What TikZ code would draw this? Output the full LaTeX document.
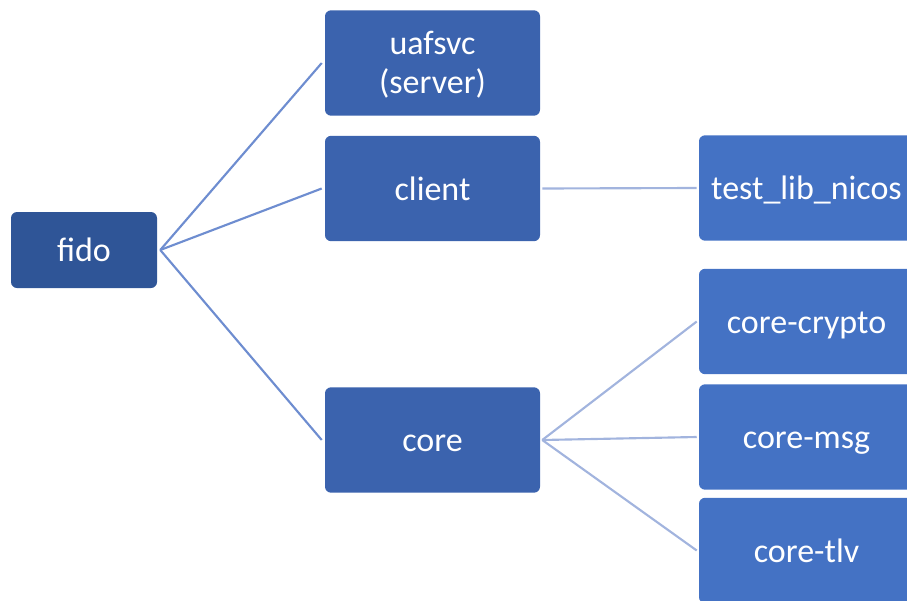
\documentclass[tikz,border=0pt]{standalone}
\usepackage{fontspec}
\setmainfont{Carlito}
\definecolor{rootblue}{HTML}{2F5597}
\definecolor{midblue}{HTML}{3B63AE}
\definecolor{leafblue}{HTML}{4472C4}
\definecolor{linkone}{HTML}{6E8DD0}
\definecolor{linktwo}{HTML}{A2B4DE}
\tikzset{
  box/.style={rounded corners=4.5pt, inner sep=0pt, text=white, align=center,
    font=\fontsize{25.5}{29}\selectfont},
  oneline/.style={text height=20.5pt, text depth=3pt},
  rootbox/.style={box, fill=rootblue, minimum width=109.5pt, minimum height=57pt},
  midbox/.style={box, fill=midblue, minimum width=161.25pt, minimum height=79pt},
  leafbox/.style={box, fill=leafblue, minimum width=161.25pt, minimum height=79pt},
  linkA/.style={draw=linkone, line width=1.6pt},
  linkB/.style={draw=linktwo, line width=1.6pt},
}
\begin{document}
\begin{tikzpicture}[x=0.75pt, y=-0.75pt]
\useasboundingbox (0,0) rectangle (907,600);
\clip (0,0) rectangle (907,600);

% boxes
\node[rootbox, oneline] (fido) at (84,250) {fido};
\node[midbox] (uafsvc) at (432.5,63) {\rule{0pt}{20.5pt}uafsvc\\(server)};
\node[midbox, oneline] (client) at (432.5,188.5) {client};
\node[midbox, oneline] (core) at (432.5,440) {core};
\node[leafbox, oneline] (nicos) at (806.5,188) {test\_lib\_nicos};
\node[leafbox, oneline] (crypto) at (806.5,321.5) {core-crypto};
\node[leafbox, oneline] (msg) at (806.5,437) {core-msg};
\node[leafbox, oneline] (tlv) at (806.5,550.5) {core-tlv};

% connectors
\draw[linkA] ([xshift=2.25pt]fido.east) -- ([xshift=-2.25pt]uafsvc.west);
\draw[linkA] ([xshift=2.25pt]fido.east) -- ([xshift=-2.25pt]client.west);
\draw[linkA] ([xshift=2.25pt]fido.east) -- ([xshift=-2.25pt]core.west);
\draw[linkB] ([xshift=1.5pt]client.east) -- ([xshift=-1.5pt]nicos.west);
\draw[linkB] ([xshift=1.5pt]core.east) -- ([xshift=-1.5pt]crypto.west);
\draw[linkB] ([xshift=1.5pt]core.east) -- ([xshift=-1.5pt]msg.west);
\draw[linkB] ([xshift=1.5pt]core.east) -- ([xshift=-1.5pt]tlv.west);
\end{tikzpicture}
\end{document}
